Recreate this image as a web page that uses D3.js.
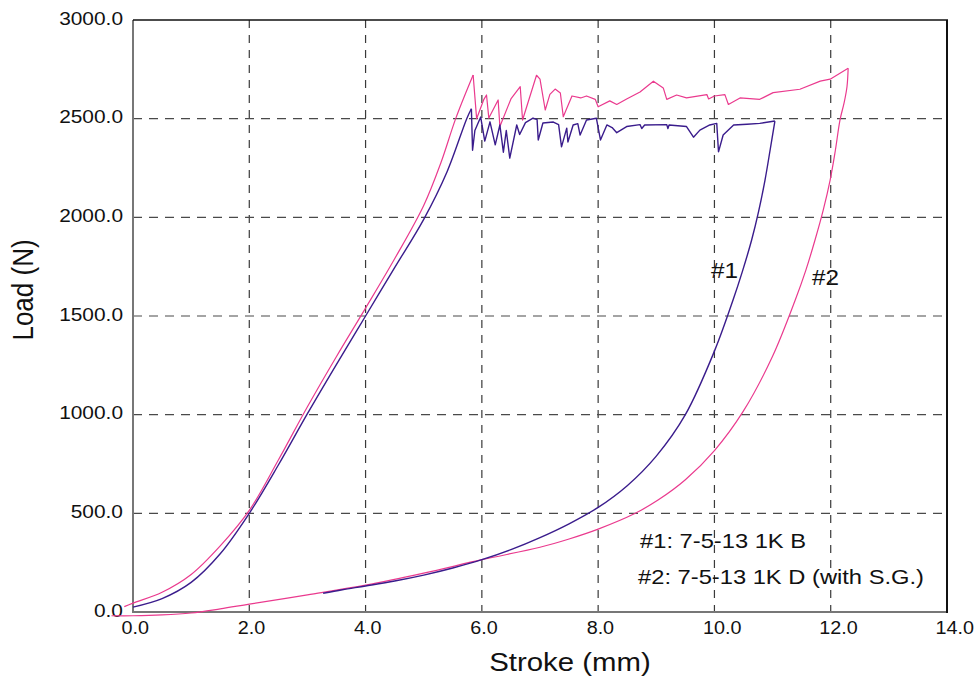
<!DOCTYPE html>
<html><head><meta charset="utf-8">
<script src="https://cdn.jsdelivr.net/npm/d3@7"></script>
<style>body{margin:0;background:#fff}svg{display:block;font-family:"Liberation Sans",Arial,sans-serif}</style>
</head><body>
<svg id="c" width="977" height="679"></svg>
<script>
// ---- data ----
const xTicks = [0, 2, 4, 6, 8, 10, 12, 14];
const yTicks = [0, 500, 1000, 1500, 2000, 2500, 3000];
const xGrid = [2, 4, 6, 8, 10, 12];
const yGrid = [500, 1000, 1500, 2000, 2500];

// #1: 7-5-13 1K B
const s1UpStroke   = [0.0,0.5,1.0,1.5,2.0,2.5,3.0,3.5,4.0,4.5,5.0,5.4,5.74,5.82];
const s1UpLoad     = [25,68,150,295,500,745,1005,1255,1500,1745,1990,2230,2500,2550];
const s1PlatStroke = [5.82,5.84,5.88,5.98,6.05,6.14,6.23,6.31,6.37,6.42,6.48,6.6,6.65,6.75,6.88,6.95,6.97,7.05,7.23,7.32,7.37,7.46,7.48,7.57,7.65,7.69,7.8,7.97,8.04,8.15,8.24,8.32,8.49,8.72,8.75,8.8,9.18,9.2,9.22,9.52,9.64,9.75,9.92,10.04,10.07,10.15,10.33,10.56,10.78,11.04];
const s1PlatLoad   = [2550,2340,2440,2508,2386,2484,2367,2468,2330,2440,2300,2468,2420,2480,2503,2495,2392,2478,2483,2470,2357,2452,2382,2468,2475,2417,2493,2502,2392,2468,2455,2429,2460,2470,2450,2468,2470,2450,2468,2460,2406,2442,2468,2476,2332,2417,2468,2472,2476,2488];
const s1DownStroke = [11.04,10.96,10.87,10.76,10.64,10.48,10.32,10.0,9.5,9.0,8.5,8.0,7.5,7.0,6.5,6.0,5.5,5.0,4.5,4.0,3.6,3.27];
const s1DownLoad   = [2488,2345,2189,2030,1885,1725,1581,1322,1000,790,640,530,447,377,316,265,223,187,157,132,113,95];

// #2: 7-5-13 1K D (with S.G.)
const s2UpStroke   = [-0.15,0.0,0.5,1.0,1.5,2.0,2.5,3.0,3.5,4.0,4.5,5.0,5.3,5.55,5.85];
const s2UpLoad     = [27,45,100,190,335,515,770,1040,1295,1540,1790,2060,2280,2500,2721];
const s2PlatStroke = [5.85,5.91,6.03,6.08,6.12,6.28,6.31,6.5,6.66,6.7,6.94,7.0,7.09,7.17,7.26,7.35,7.4,7.55,7.7,7.8,7.95,8.0,8.2,8.32,8.49,8.72,8.95,9.12,9.18,9.35,9.52,9.87,9.9,10.0,10.18,10.24,10.44,10.78,11.01,11.47,11.82,11.99,12.3];
const s2PlatLoad   = [2721,2500,2595,2620,2503,2595,2460,2600,2662,2493,2720,2700,2544,2623,2650,2630,2510,2615,2605,2615,2598,2560,2590,2572,2600,2635,2690,2656,2598,2620,2605,2622,2600,2615,2622,2572,2605,2598,2632,2649,2690,2700,2755];
const s2DownStroke = [12.3,12.28,12.23,12.16,12.08,11.99,11.87,11.73,11.57,11.39,11.0,10.5,10.0,9.5,9.03,8.63,8.0,7.5,7.0,6.0,5.0,4.0,3.0,2.0,1.5,1.0,0.5,0.0,-0.37];
const s2DownLoad   = [2755,2662,2580,2494,2340,2189,2035,1885,1730,1581,1296,1019,818,670,567,499,420,370,328,265,197,136,87,40,16,-5,-15,-19,-19];

const legendLines = ["#1: 7-5-13 1K B", "#2: 7-5-13 1K D (with S.G.)"];
const seriesLabels = ["#1", "#2"];
const colors = ["#3a1c8c", "#ea3a8e"];

// ---- chart ----
const SX = 1.13;
const svg = d3.select("#c");
const x = d3.scaleLinear().domain([0, 14]).range([133, 947]);
const y = d3.scaleLinear().domain([0, 3000]).range([612, 20]);

// grid
const g = svg.append("g");
g.selectAll("line.vx").data(xGrid).join("line")
  .attr("x1", d => x(d)).attr("x2", d => x(d)).attr("y1", y(3000)).attr("y2", y(0))
  .attr("stroke", "#3a3a3a").attr("stroke-width", 1.2).attr("stroke-dasharray", "8,7");
g.selectAll("line.hy").data(yGrid).join("line")
  .attr("x1", x(0)).attr("x2", x(14)).attr("y1", d => y(d)).attr("y2", d => y(d))
  .attr("stroke", "#4a4a4a").attr("stroke-width", 1.2).attr("stroke-dasharray", "9,7");

// axes (labels only)
const xa = svg.append("g").attr("transform", `translate(0,${y(0)})`)
  .call(d3.axisBottom(x).tickValues(xTicks).tickSize(0).tickFormat(d3.format(".1f")));
xa.select(".domain").remove();
xa.selectAll("text").attr("x", null).attr("y", null).attr("dy", null)
  .attr("text-anchor", "start").attr("font-size", 17.5).attr("fill", "#111")
  .attr("font-family", "Liberation Sans, Arial, sans-serif")
  .attr("transform", `translate(-12,22) scale(${SX},1)`);

const ya = svg.append("g").attr("transform", `translate(${x(0)},0)`)
  .call(d3.axisLeft(y).tickValues(yTicks).tickSize(0).tickFormat(d3.format(".1f")));
ya.select(".domain").remove();
ya.selectAll("text").attr("x", null).attr("y", null).attr("dy", null)
  .attr("text-anchor", "end").attr("font-size", 18.5).attr("fill", "#111")
  .attr("font-family", "Liberation Sans, Arial, sans-serif")
  .attr("transform", `translate(-10,4) scale(${SX},1)`);

// frame
svg.append("line").attr("x1", x(0)).attr("x2", x(0)).attr("y1", y(3000)).attr("y2", y(0) + 1)
  .attr("stroke", "#777").attr("stroke-width", 2);
svg.append("line").attr("x1", x(0)).attr("x2", x(14) + 1).attr("y1", y(0)).attr("y2", y(0))
  .attr("stroke", "#777").attr("stroke-width", 2);
svg.append("line").attr("x1", x(0)).attr("x2", x(14) + 1).attr("y1", y(3000)).attr("y2", y(3000))
  .attr("stroke", "#111").attr("stroke-width", 1.5);
svg.append("line").attr("x1", x(14)).attr("x2", x(14)).attr("y1", y(3000)).attr("y2", y(0) + 1)
  .attr("stroke", "#111").attr("stroke-width", 2);

// series
const smooth = d3.line().x(d => x(d[0])).y(d => y(d[1])).curve(d3.curveCatmullRom.alpha(0.5));
const sharp = d3.line().x(d => x(d[0])).y(d => y(d[1]));
const zip = (a, b) => a.map((v, i) => [v, b[i]]);
function drawSeries(parts, color, w) {
  parts.forEach(([xs, ys, gen]) => {
    svg.append("path").datum(zip(xs, ys)).attr("d", gen).attr("fill", "none")
      .attr("stroke", color).attr("stroke-width", w).attr("stroke-linejoin", "round");
  });
}
drawSeries([[s2UpStroke, s2UpLoad, smooth], [s2PlatStroke, s2PlatLoad, sharp], [s2DownStroke, s2DownLoad, smooth]], colors[1], 1.2);
drawSeries([[s1UpStroke, s1UpLoad, smooth], [s1PlatStroke, s1PlatLoad, sharp], [s1DownStroke, s1DownLoad, smooth]], colors[0], 1.4);

// text helper
function txt(str, tx, ty, size, anchor, rot) {
  svg.append("text").text(str)
    .attr("font-size", size).attr("fill", "#111").attr("text-anchor", anchor || "start")
    .attr("transform", rot ? `translate(${tx},${ty}) rotate(-90) scale(1,${SX})`
                           : `translate(${tx},${ty}) scale(${SX},1)`);
}
txt(seriesLabels[0], 711, 278, 21.5);
txt(seriesLabels[1], 812, 285, 21.5);
txt(legendLines[0], 640, 548, 21);
txt(legendLines[1], 638, 584, 21);
txt("Stroke (mm)", 570, 671, 26, "middle");
txt("Load (N)", 33, 290, 26, "middle", true);
</script>
</body></html>
